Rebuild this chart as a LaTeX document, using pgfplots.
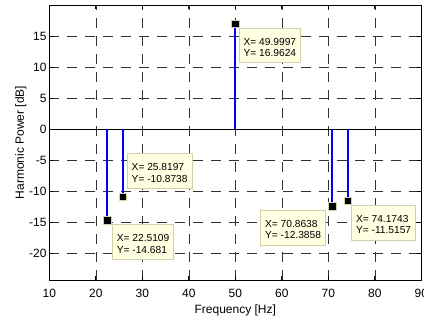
\documentclass[border=0pt]{standalone}
\usepackage{fontspec}
\setmainfont{Liberation Sans}
\usepackage{pgfplots}
\pgfplotsset{compat=1.18}
\definecolor{tipfill}{RGB}{255,255,225}
\definecolor{tipdraw}{RGB}{210,208,165}
\definecolor{gridc}{RGB}{50,50,50}
\definecolor{stemblue}{RGB}{0,0,255}
\begin{document}
\begin{tikzpicture}[
  tip/.style={draw=tipdraw, fill=tipfill, line width=0.7bp, align=left,
    inner xsep=4.5bp, inner ysep=6bp, font=\fontsize{10.2bp}{11.7bp}\selectfont}]
\useasboundingbox (-49.3bp,-44bp) rectangle (374.7bp,280bp);
\begin{axis}[
  at={(0,0)}, anchor=south west,
  scale only axis, width=372bp, height=275bp,
  xmin=10, xmax=90, ymin=-24.3, ymax=20,
  xtick={10,20,...,90}, ytick={-20,-15,...,15},
  grid=major,
  major grid style={dash pattern=on 10bp off 8bp, gridc, line width=0.5bp},
  tick align=inside, major tick length=4bp,
  xtick pos=both, ytick pos=both,
  axis line style={line width=0.8bp},
  tick style={black, line width=0.6bp},
  ticklabel style={font=\fontsize{12bp}{14bp}\selectfont},
  /pgf/number format/assume math mode=true,
  xticklabel style={anchor=north, inner sep=0pt, yshift=-8.5bp},
  yticklabel style={anchor=east, inner sep=0pt, xshift=-2.6bp},
  xlabel={Frequency [Hz]},
  ylabel={Harmonic Power [dB]},
  label style={font=\fontsize{12bp}{14bp}\selectfont},
  xlabel style={at={(axis description cs:0.5,0)}, anchor=north, inner sep=0pt, yshift=-24.5bp},
  ylabel style={at={(axis description cs:-0.0608,0.5)}, anchor=south, inner sep=0pt},
]
\addplot[draw=black, mark=none, line width=0.8bp] coordinates {(10,0) (90,0)};
\addplot[ycomb, draw=stemblue, mark=none, line width=2bp] coordinates {
  (22.5109,-14.681) (25.8197,-10.8738) (49.9997,16.9624) (70.8638,-12.3858) (74.1743,-11.5157)};
\addplot[only marks, mark=square*, mark size=3.8bp, mark options={solid, fill=black, draw=tipdraw, line width=0.6bp}] coordinates {
  (22.5109,-14.681) (25.8197,-10.8738) (49.9997,16.9624) (70.8638,-12.3858) (74.1743,-11.5157)};
\node[tip, anchor=north west, xshift=3.5bp, yshift=-4bp] at (axis cs:49.9997,16.9624) {\rule{0pt}{10.8bp}X= 49.9997\\Y= 16.9624};
\node[tip, anchor=south west, xshift=4bp, yshift=8bp] at (axis cs:25.8197,-10.8738) {\rule{0pt}{10.8bp}X= 25.8197\\Y= -10.8738};
\node[tip, anchor=north west, xshift=4.5bp, yshift=-4bp] at (axis cs:22.5109,-14.681) {\rule{0pt}{10.8bp}X= 22.5109\\Y= -14.681};
\node[tip, anchor=north east, xshift=-6.5bp, yshift=-4bp] at (axis cs:70.8638,-12.3858) {\rule{0pt}{10.8bp}X= 70.8638\\Y= -12.3858};
\node[tip, anchor=north west, xshift=3.5bp, yshift=-4.5bp] at (axis cs:74.1743,-11.5157) {\rule{0pt}{10.8bp}X= 74.1743\\Y= -11.5157};
\end{axis}
\end{tikzpicture}
\end{document}
